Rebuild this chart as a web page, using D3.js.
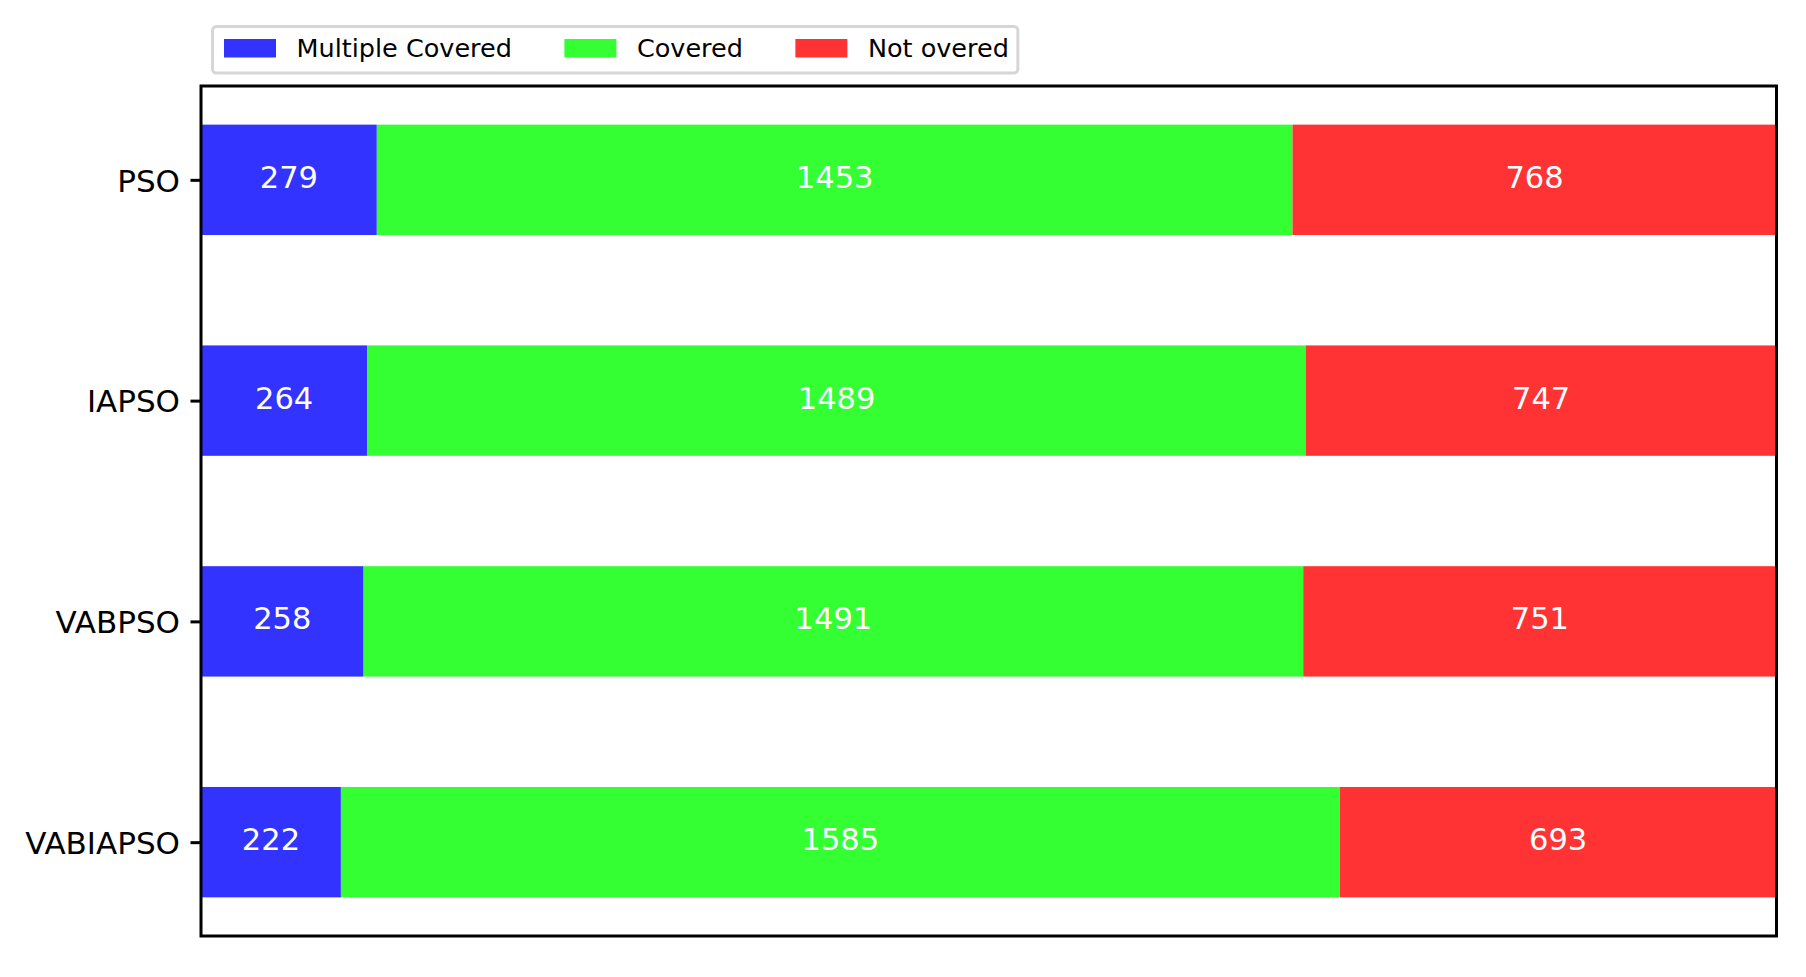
<!DOCTYPE html>
<html>
<head>
<meta charset="utf-8">
<script src="https://cdn.jsdelivr.net/npm/d3@7"></script>
<style>
  body { margin: 0; background: #fff; }
  svg { display: block; font-family: "DejaVu Sans", sans-serif; }
</style>
</head>
<body>
<svg id="chart" width="1806" height="977"></svg>
<script>
// datos
const categories = ["PSO", "IAPSO", "VABPSO", "VABIAPSO"];
const multipleCovered = [279, 264, 258, 222];
const covered = [1453, 1489, 1491, 1585];
const notCovered = [768, 747, 751, 693];
const seriesNames = ["Multiple Covered", "Covered", "Not overed"];
const seriesColors = ["#3333ff", "#33ff33", "#ff3333"];

const svg = d3.select("#chart");
const axLeft = 201, axRight = 1776.5, axTop = 86, axBottom = 936;

const x = d3.scaleLinear().domain([0, 2500]).range([axLeft, axRight]);
// categorias en indices 0..3, PSO arriba
const y = d3.scaleLinear().domain([-0.425, 3.425]).range([axTop, axBottom]);
const barH = y(0.5) - y(0);

const series = [multipleCovered, covered, notCovered];

// barras apiladas
categories.forEach((cat, i) => {
  let acc = 0;
  series.forEach((vals, s) => {
    const v = vals[i];
    const x0 = x(acc), x1 = x(acc + v);
    svg.append("rect")
      .attr("x", x0).attr("y", y(i) - barH / 2)
      .attr("width", x1 - x0).attr("height", barH)
      .attr("fill", seriesColors[s]);
    svg.append("text")
      .attr("x", (x0 + x1) / 2).attr("y", y(i) + 8)
      .attr("text-anchor", "middle")
      .attr("font-size", 30.5)
      .attr("fill", "#fff")
      .text(v);
    acc += v;
  });
});

// marco de ejes
svg.append("rect")
  .attr("x", axLeft).attr("y", axTop)
  .attr("width", axRight - axLeft).attr("height", axBottom - axTop)
  .attr("fill", "none").attr("stroke", "#000").attr("stroke-width", 3);

// eje y
const yAxis = d3.axisLeft(y)
  .tickValues(d3.range(categories.length))
  .tickFormat(i => categories[i])
  .tickSize(10.5).tickPadding(10.5);
const gy = svg.append("g").attr("transform", `translate(${axLeft},0)`).call(yAxis);
gy.select(".domain").remove();
gy.selectAll(".tick line").attr("stroke", "#000").attr("stroke-width", 3);
gy.selectAll(".tick text")
  .attr("font-size", 31).attr("font-family", "DejaVu Sans")
  .attr("fill", "#000").attr("dy", "0.36em");

// leyenda
const legend = svg.append("g");
const frame = legend.append("rect")
  .attr("x", 212.5).attr("y", 26.5).attr("height", 46.5)
  .attr("rx", 4).attr("fill", "#fff").attr("fill-opacity", 0.8)
  .attr("stroke", "#d6d6d6").attr("stroke-width", 3);
let lx = 224;
seriesNames.forEach((name, s) => {
  legend.append("rect")
    .attr("x", lx).attr("y", 39)
    .attr("width", 52).attr("height", 18.5)
    .attr("fill", seriesColors[s]);
  const t = legend.append("text")
    .attr("x", lx + 72.5).attr("y", 56.7)
    .attr("font-size", 25.5).attr("fill", "#000")
    .text(name);
  lx += 72.5 + t.node().getComputedTextLength() + 52.5;
});
frame.attr("width", lx - 52.5 + 9 - 212.5);
</script>
</body>
</html>
